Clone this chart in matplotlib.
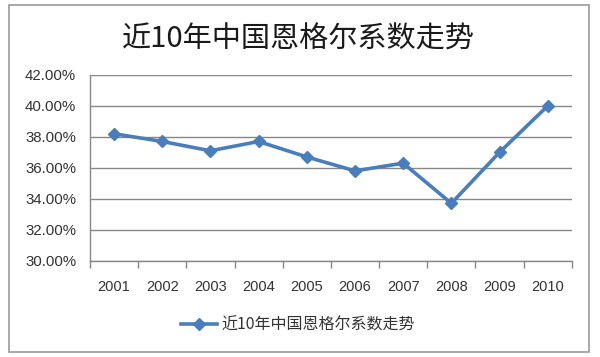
import matplotlib
matplotlib.use("Agg")
import matplotlib.pyplot as plt
from matplotlib.patches import Rectangle
from matplotlib.ticker import FixedLocator, FuncFormatter
import numpy as np

plt.rcParams['font.family'] = ['Noto Sans CJK SC', 'DejaVu Sans']

title = "近10年中国恩格尔系数走势"
years = ["2001", "2002", "2003", "2004", "2005", "2006", "2007", "2008", "2009", "2010"]
values = [38.2, 37.7, 37.1, 37.7, 36.7, 35.8, 36.3, 33.7, 37.0, 40.0]
y_ticks = [30, 32, 34, 36, 38, 40, 42]

line_color = "#4A7EBB"
grid_color = "#878787"

fig = plt.figure(figsize=(6.0, 3.57), dpi=100)
ax = fig.add_axes([0.150, 0.270, 0.803, 0.520])

x = np.arange(len(years))
ax.plot(x, values, color=line_color, lw=2.6, marker="D", markersize=6.5,
        markerfacecolor=line_color, markeredgecolor=line_color, label=title, zorder=3)

ax.set_xlim(-0.5, len(years) - 0.5)
ax.set_ylim(30, 42)
ax.set_yticks(y_ticks)
ax.yaxis.set_major_formatter(FuncFormatter(lambda v, p: f"{v:.2f}%"))
ax.set_xticks(x)
ax.set_xticklabels(years)
ax.xaxis.set_minor_locator(FixedLocator(np.arange(-0.5, len(years), 1.0)))
ax.tick_params(axis="x", which="major", length=0, pad=14, labelsize=10.5, colors="#333333")
ax.tick_params(axis="x", which="minor", length=5, width=1, color=grid_color, direction="out")
ax.tick_params(axis="y", which="major", length=0, pad=10, labelsize=10.8, colors="#333333")
for lab in ax.get_xticklabels() + ax.get_yticklabels():
    lab.set_fontfamily(["Liberation Sans", "DejaVu Sans"])

ax.grid(axis="y", color=grid_color, lw=1.0)
ax.set_axisbelow(True)
for s in ["top", "right"]:
    ax.spines[s].set_visible(False)
for s in ["left", "bottom"]:
    ax.spines[s].set_color(grid_color)
    ax.spines[s].set_linewidth(1.0)

fig.text(0.497, 0.888, title, ha="center", va="center", fontsize=21, color="#1a1a1a")

leg = fig.legend(loc="center", bbox_to_anchor=(0.497, 0.09), frameon=False,
                 fontsize=11.5, handlelength=2.2, handletextpad=0.3)
for t in leg.get_texts():
    t.set_color("#333333")

fig.patches.append(Rectangle((9/600, 1 - 352/357), 580/600, 347/357, transform=fig.transFigure,
                             fill=False, edgecolor="#9a9a9a", lw=1.2))

fig.savefig("out.png", dpi=100, facecolor="white")
